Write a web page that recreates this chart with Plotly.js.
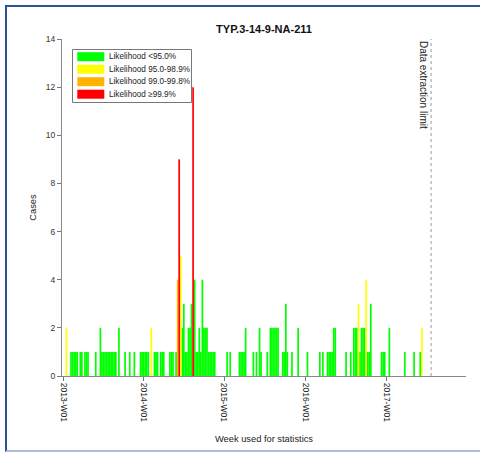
<!DOCTYPE html>
<html><head><meta charset="utf-8">
<script src="https://cdn.plot.ly/plotly-3.0.1.min.js"></script>
<style>
html,body{margin:0;padding:0;background:#fff;overflow:hidden;}
#chart{width:480px;height:453px;}
#frame{position:absolute;left:5px;top:5px;width:490px;height:447px;box-sizing:border-box;
border-left:2px solid #2a5298;border-top:2px solid #2a5298;border-bottom:2px solid #a9bfe0;pointer-events:none;}
</style>
</head><body>
<div id="chart"></div><div id="frame"></div>
<script>
// Categories (likelihood classes) and colours
const categories = ['Likelihood <95.0%', 'Likelihood 95.0-98.9%', 'Likelihood 99.0-99.8%', 'Likelihood \u226599.9%'];
const categoryColors = ['#00ff00', '#ffff00', '#ffb300', '#ff0000'];

// Week index (0 = 2013-W01) and case counts per class
const greenWeeks = [5,6,7,8,9,11,12,14,15,16,21,24,25,26,27,28,29,30,31,32,33,34,36,40,43,46,50,51,52,53,54,55,59,60,61,63,64,65,69,70,71,73,77,78,79,80,81,82,83,85,86,87,88,89,90,91,92,93,94,95,96,97,98,106,108,114,115,116,117,118,123,125,127,128,132,134,135,136,137,138,139,142,143,144,145,148,152,158,166,168,171,172,173,174,175,176,183,186,188,189,190,192,193,194,195,197,198,199,206,207,208,211,221,227,231];
const greenCases = [1,1,1,1,1,1,1,1,1,1,1,2,1,1,1,1,1,1,1,1,1,1,2,1,1,1,1,1,1,1,1,1,1,1,1,1,1,1,1,1,1,1,2,3,1,1,2,2,3,4,1,1,2,1,4,2,2,2,1,1,1,1,1,1,1,1,1,1,1,2,1,1,2,1,1,2,2,2,2,2,2,1,1,3,1,1,2,1,1,1,1,1,1,1,2,2,1,1,2,2,2,1,2,2,2,1,1,3,1,1,1,2,1,1,1];
const yellowWeeks = [2,57,76,191,196,232];
const yellowCases = [2,2,5,3,4,2];
const orangeWeeks = [74];
const orangeCases = [4];
const redWeeks = [75,84];
const redCases = [9,12];

const tickWeeks = [0,52,104,157,209];
const tickLabels = ['2013-W01','2014-W01','2015-W01','2016-W01','2017-W01'];
const extractionLimitWeek = 238;
const chartTitle = 'TYP.3-14-9-NA-211';

const FONT = 'Liberation Sans, Arial, sans-serif';
const seriesWeeks = [greenWeeks, yellowWeeks, orangeWeeks, redWeeks];
const seriesCases = [greenCases, yellowCases, orangeCases, redCases];

const traces = categories.map((name, i) => ({
  type: 'bar', name: name, x: seriesWeeks[i], y: seriesCases[i],
  width: 1.1, marker: {color: categoryColors[i], line: {width: 0}},
  showlegend: false, hoverinfo: 'x+y'
}));

// plot-area geometry for the manual legend (pixels -> paper)
const L = 62, R = 466, T = 39, B = 376;
const px = v => (v - L) / (R - L);
const py = v => (B - v) / (B - T);

const shapes = [
  {type: 'line', xref: 'x', yref: 'y', x0: extractionLimitWeek, x1: extractionLimitWeek, y0: 0, y1: 14,
   line: {color: '#999', width: 1, dash: 'dot'}},
  {type: 'rect', xref: 'paper', yref: 'paper', x0: px(72.5), x1: px(191.5), y0: py(102.5), y1: py(49.5),
   line: {color: '#777', width: 1}, fillcolor: '#fff'}
];
const annotations = [
  {xref: 'x', yref: 'paper', x: extractionLimitWeek, y: 1, xanchor: 'center', yanchor: 'top', xshift: -7,
   textangle: 90, showarrow: false, text: 'Data extraction limit', font: {family: FONT, size: 10, color: '#222'}}
];
categories.forEach((name, i) => {
  const cy = 56.7 + i * 12.5;
  shapes.push({type: 'rect', xref: 'paper', yref: 'paper', x0: px(77.3), x1: px(104.3), y0: py(cy + 4.5), y1: py(cy - 4.5),
    line: {width: 0}, fillcolor: categoryColors[i]});
  annotations.push({xref: 'paper', yref: 'paper', x: px(107), y: py(cy), xanchor: 'left', yanchor: 'middle',
    showarrow: false, text: name, font: {family: FONT, size: 8.2, color: '#222'}});
});

const layout = {
  width: 480, height: 453,
  margin: {l: L, r: 480 - R, t: T, b: 453 - B, pad: 0},
  paper_bgcolor: '#fff', plot_bgcolor: '#fff',
  barmode: 'overlay', showlegend: false,
  font: {family: FONT, size: 8.5, color: '#222'},
  title: {text: '<b>' + chartTitle + '</b>', x: 0.5, xref: 'paper', y: 1 - 29.5 / 453, yref: 'container',
    yanchor: 'middle', font: {family: FONT, size: 11, color: '#111'}},
  xaxis: {range: [-0.84, 260.6], tickmode: 'array', tickvals: tickWeeks, ticktext: tickLabels, tickangle: 90,
    ticks: 'outside', ticklen: 4, tickcolor: '#777', showline: true, linecolor: '#888', linewidth: 1,
    showgrid: false, zeroline: false, tickfont: {family: FONT, size: 8.5, color: '#222'},
    title: {text: 'Week used for statistics', font: {family: FONT, size: 9.3, color: '#222'}, standoff: 14}},
  yaxis: {range: [0, 14], tickmode: 'linear', tick0: 0, dtick: 2, ticks: 'outside', ticklen: 4, tickcolor: '#777',
    showline: true, linecolor: '#888', linewidth: 1, showgrid: false, zeroline: false,
    tickfont: {family: FONT, size: 8.5, color: '#333'},
    title: {text: 'Cases', font: {family: FONT, size: 9.3, color: '#222'}, standoff: 7}},
  shapes: shapes, annotations: annotations
};

Plotly.newPlot('chart', traces, layout, {staticPlot: true, displayModeBar: false});
</script>
</body></html>
